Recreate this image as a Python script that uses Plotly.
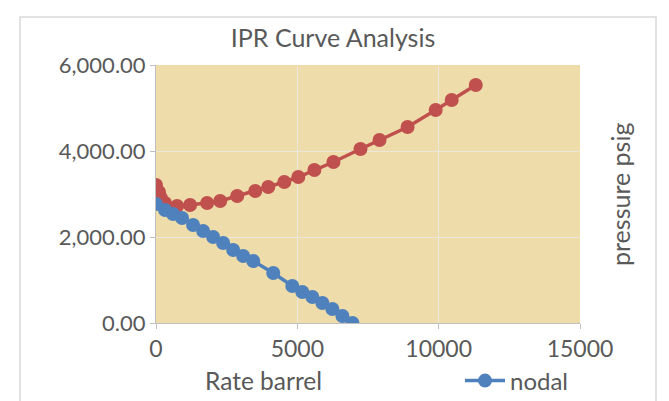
import plotly.graph_objects as go

# ---- data ----
red_rate = [0, 106, 177, 319, 745, 1206, 1809, 2270, 2872, 3511, 3972, 4539,
            5035, 5603, 6277, 7234, 7908, 8901, 9894, 10461, 11312]
red_pressure = [3210, 3047, 2907, 2791, 2721, 2744, 2791, 2837, 2953, 3070, 3163,
                3279, 3395, 3558, 3744, 4047, 4256, 4558, 4953, 5186, 5535]

nodal_rate = [0, 319, 603, 922, 1312, 1667, 2021, 2376, 2730, 3085, 3440, 4149,
              4823, 5177, 5532, 5887, 6241, 6596, 6950]
nodal_pressure = [2767, 2628, 2535, 2442, 2279, 2140, 2000, 1860, 1698, 1558, 1442,
                  1163, 860, 721, 605, 465, 326, 163, 0]

x_ticks = [0, 5000, 10000, 15000]
x_tick_labels = ["0", "5000", "10000", "15000"]
y_ticks = [0, 2000, 4000, 6000]
y_tick_labels = ["0.00", "2,000.00", "4,000.00", "6,000.00"]

RED = "#C0504D"
BLUE = "#4F81BD"
TXT = "#595959"
FONT = "Lato"

fig = go.Figure()
fig.add_trace(go.Scatter(
    x=red_rate, y=red_pressure, mode="lines+markers", name="ipr",
    line=dict(color=RED, width=3.5), marker=dict(color=RED, size=14),
    showlegend=False))
fig.add_trace(go.Scatter(
    x=nodal_rate, y=nodal_pressure, mode="lines+markers", name="nodal",
    line=dict(color=BLUE, width=3.5), marker=dict(color=BLUE, size=14)))

# page body adds an 8px offset; work in screenshot pixels and shift
OFF = 8
W, H = 669, 401
PL, PR, PT, PB = 156, 580, 65, 323          # plot area in screenshot pixels
L, T = PL - OFF, PT - OFF
R, B = W - (PR - OFF), H - (PB - OFF)
pw, ph = PR - PL, PB - PT

def px(xp):
    return (xp - PL) / pw

def py(yp):
    return (PB - yp) / ph

fig.update_layout(
    width=W, height=H,
    margin=dict(l=L, r=R, t=T, b=B, autoexpand=False),
    paper_bgcolor="white",
    plot_bgcolor="#EEDCAA",
    font=dict(family=FONT, color=TXT, size=21),
    title=dict(text="IPR Curve Analysis", x=px(362), xanchor="center",
               y=1 - (38 - OFF) / H, yanchor="middle",
               font=dict(size=25, color=TXT)),
    xaxis=dict(range=[0, 15000], tickvals=x_ticks, ticktext=x_tick_labels,
               ticks="outside", ticklen=5, tickcolor="#BFBFBF", showline=True,
               linecolor="#BFBFBF", showgrid=True,
               gridcolor="rgba(235,235,235,0.75)", zeroline=False,
               tickfont=dict(size=23, color=TXT), automargin=False),
    yaxis=dict(range=[0, 6000], tickvals=y_ticks, ticktext=y_tick_labels,
               ticks="outside", ticklen=5, tickcolor="#BFBFBF", showline=True,
               linecolor="#BFBFBF", showgrid=True,
               gridcolor="rgba(235,235,235,0.75)", zeroline=False,
               tickfont=dict(size=22, color=TXT), automargin=False),
    legend=dict(orientation="h", x=px(460), xanchor="left", y=py(381),
                yanchor="middle", bgcolor="rgba(0,0,0,0)", itemwidth=40,
                font=dict(size=24, color=TXT)),
    annotations=[
        dict(text="Rate barrel", xref="paper", yref="paper", x=px(263), y=py(380),
             xanchor="center", yanchor="middle", showarrow=False,
             font=dict(size=24.5, color=TXT)),
        dict(text="pressure psig", xref="paper", yref="paper", x=px(620), y=py(195),
             xanchor="center", yanchor="middle", showarrow=False, textangle=-90,
             font=dict(size=25, color=TXT)),
    ],
    shapes=[
        dict(type="rect", xref="paper", yref="paper", x0=px(20), x1=px(656),
             y0=py(17), y1=py(412), line=dict(color="#D9D9D9", width=1.5)),
    ],
)

fig.write_html("out.html")
